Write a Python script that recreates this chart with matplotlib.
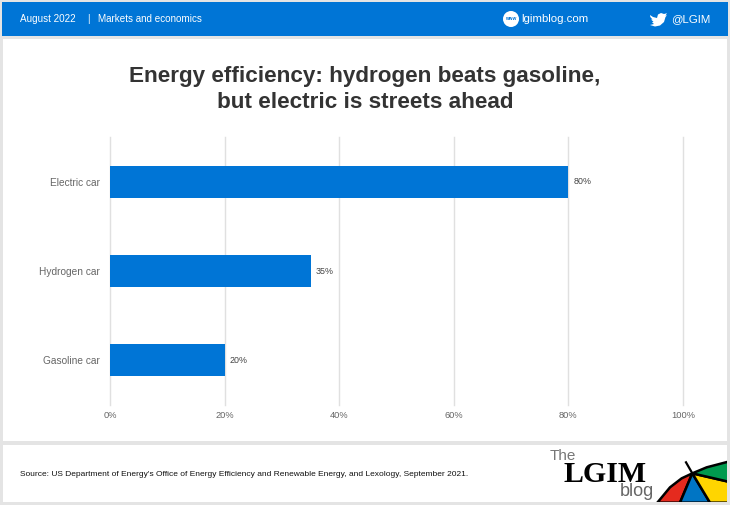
import matplotlib
matplotlib.use("Agg")
import matplotlib.pyplot as plt
from matplotlib.patches import Rectangle, Polygon, Circle
from matplotlib.ticker import FuncFormatter

plt.rcParams['font.family'] = ['Liberation Sans', 'DejaVu Sans']

categories = ["Electric car", "Hydrogen car", "Gasoline car"]
values = [80, 35, 20]
x_ticks = [0, 20, 40, 60, 80, 100]
title = "Energy efficiency: hydrogen beats gasoline,\nbut electric is streets ahead"
source = ("Source: US Department of Energy's Office of Energy Efficiency and Renewable Energy, "
          "and Lexology, September 2021.")

W, H = 730, 505
BLUE = "#0075d6"
fig = plt.figure(figsize=(W / 100, H / 100), dpi=100, facecolor="#e4e4e4")

# page furniture in pixel coordinates
bg = fig.add_axes([0, 0, 1, 1], zorder=0)
bg.set_xlim(0, W); bg.set_ylim(H, 0); bg.axis("off")
bg.add_patch(Rectangle((2, 2), 726, 34, fc=BLUE, ec="none"))
bg.add_patch(Rectangle((3, 39), 724, 402, fc="white", ec="none"))
panel = Rectangle((3, 445), 724, 57, fc="white", ec="none")
bg.add_patch(panel)

hdr = dict(color="white", fontsize=7.15, va="center")
bg.text(20, 18.5, "August 2022", **hdr)
bg.text(87, 18.5, "|", **hdr)
bg.text(98, 18.5, "Markets and economics", **hdr)
bg.text(521, 19.5, "lgimblog.com", color="white", fontsize=8.2, va="center")
bg.text(671, 19.5, "@LGIM", color="white", fontsize=8.2, va="center")
bg.add_patch(Circle((511, 19), 8, fc="white", ec="none"))
bg.text(511, 18.5, "www", color=BLUE, fontsize=3.5, ha="center", va="center", fontweight="bold")

# bird icon
bird = [(650, 15), (653, 17), (657, 18), (658, 14.5), (661, 13), (664, 14), (667, 13.2),
        (665.5, 15.5), (667, 15.3), (665.5, 17), (664, 22), (660, 25.5), (655, 26.5), (650, 25),
        (654, 24), (652, 22.3), (653.5, 21.8), (651, 19.5), (652.5, 19.5), (650.3, 17)]
bg.add_patch(Polygon(bird, closed=True, fc="white", ec="none"))

bg.text(365, 89.5, title, ha="center", va="center", fontsize=16.2, fontweight="bold",
        color="#333333", linespacing=1.34)
bg.text(20, 474, source, fontsize=6.05, color="#111111", va="center")

# logo
bg.text(550, 456, "The", fontsize=11, color="#777777", va="center")
bg.text(563, 474, "LGIM", fontsize=21.5, color="black", va="center", fontweight="bold",
        family=["Liberation Serif"])
bg.text(620, 492, "blog", fontsize=13, color="#666666", va="center")

def z(p):
    return (480 + p[0] / 3, 430 + p[1] / 3)

apex = (637, 130)
pieces = [
    ("#e52a1e", [apex, (600, 218), (532, 218), (570, 172), (605, 145)]),
    ("#0075c4", [apex, (690, 218), (600, 218)]),
    ("#ffd500", [apex, (745, 155), (745, 218), (690, 218)]),
    ("#009a4e", [apex, (680, 112), (745, 95), (745, 155)]),
]
for color, pts in pieces:
    poly = Polygon([z(p) for p in pts], closed=True, fc=color, ec="black", lw=1.8, joinstyle="round")
    bg.add_patch(poly)
    poly.set_clip_path(panel)
stem = bg.plot(*zip(z((618, 97)), z(apex)), color="black", lw=1.6)[0]

# chart
ax = fig.add_axes([110 / W, 1 - 405 / H, 573 / W, 268 / H], zorder=1)
ax.patch.set_alpha(0)
positions = list(range(len(categories)))
ax.barh(positions, values, height=0.36, color=BLUE, zorder=3)
ax.set_xlim(0, 100)
ax.set_ylim(2.5, -0.5)
ax.set_yticks(positions, categories)
ax.set_xticks(x_ticks)
ax.xaxis.set_major_formatter(FuncFormatter(lambda v, _: f"{v:.0f}%"))
ax.grid(axis="x", color="#e0e0e0", lw=1, zorder=0, clip_on=False)
ax.tick_params(axis="both", length=0)
ax.tick_params(axis="y", labelsize=7.3, labelcolor="#666666", pad=7)
ax.tick_params(axis="x", labelsize=6.7, labelcolor="#666666", pad=4.5)
for s in ax.spines.values():
    s.set_visible(False)
for x, y in zip(values, positions):
    ax.annotate(f"{x}%", (x, y), xytext=(3.5, 0), textcoords="offset points",
                va="center", fontsize=6.4, color="#444444")

fig.savefig("out.png", dpi=100, facecolor=fig.get_facecolor())
